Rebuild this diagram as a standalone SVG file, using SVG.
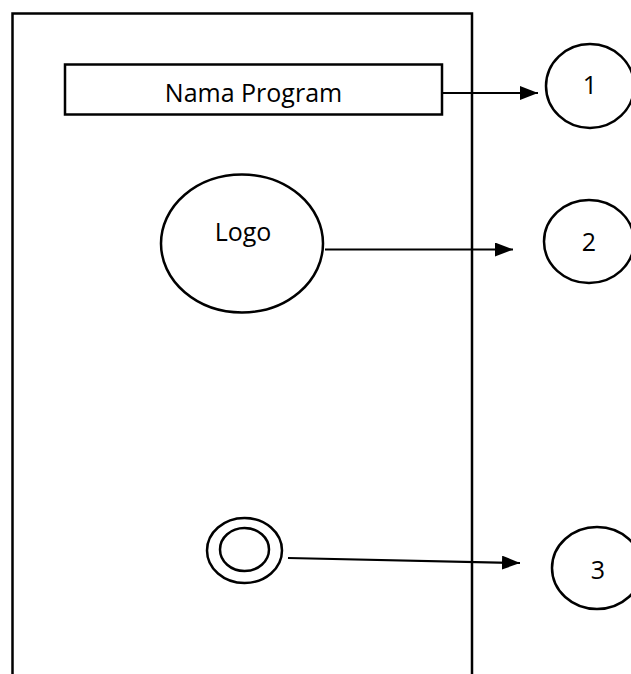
<svg xmlns="http://www.w3.org/2000/svg" width="631" height="674" viewBox="0 0 631 674">
<defs>
<style>
.s{fill:none;stroke:#000;stroke-width:2.5}
.t{font-family:"Open Sans","Liberation Sans",sans-serif;font-size:25px;fill:#000;text-anchor:middle}
.c{fill:none;stroke:#000;stroke-width:2.2}
</style>
<marker id="ah" viewBox="0 0 18 14" refX="18" refY="7" markerWidth="18" markerHeight="14" markerUnits="userSpaceOnUse" orient="auto">
<path d="M0,0 L18,7 L0,14 Z" fill="#000"/>
</marker>
</defs>
<rect width="631" height="674" fill="#fff"/>
<g id="frame"><path class="s" d="M12.5,680 V13.5 H472 V680" stroke-width="2.8"/></g>
<g id="nama-program"><rect class="s" x="65" y="64.5" width="377" height="50"/><text class="t" x="253.5" y="102">Nama Program</text></g>
<g id="logo"><ellipse class="s" cx="242" cy="243.5" rx="81" ry="69"/><text class="t" x="243" y="241">Logo</text></g>
<g id="button"><ellipse class="s" cx="244.5" cy="550.5" rx="37.5" ry="32.5"/><ellipse class="s" cx="244.5" cy="549.5" rx="24.5" ry="21.5"/></g>
<g id="n1"><ellipse class="s" cx="590" cy="86" rx="44" ry="42"/><text class="t" x="590" y="94">1</text></g>
<g id="n2"><ellipse class="s" cx="589" cy="241.5" rx="45" ry="41.5"/><text class="t" x="589" y="251">2</text></g>
<g id="n3"><ellipse class="s" cx="597" cy="568" rx="45" ry="41"/><text class="t" x="598" y="579">3</text></g>
<g id="connectors">
<line class="c" x1="442" y1="93" x2="538" y2="93" marker-end="url(#ah)"/>
<line class="c" x1="325" y1="249.5" x2="513" y2="249.5" marker-end="url(#ah)"/>
<line class="c" x1="288" y1="558" x2="520" y2="563" marker-end="url(#ah)"/>
</g>
</svg>
